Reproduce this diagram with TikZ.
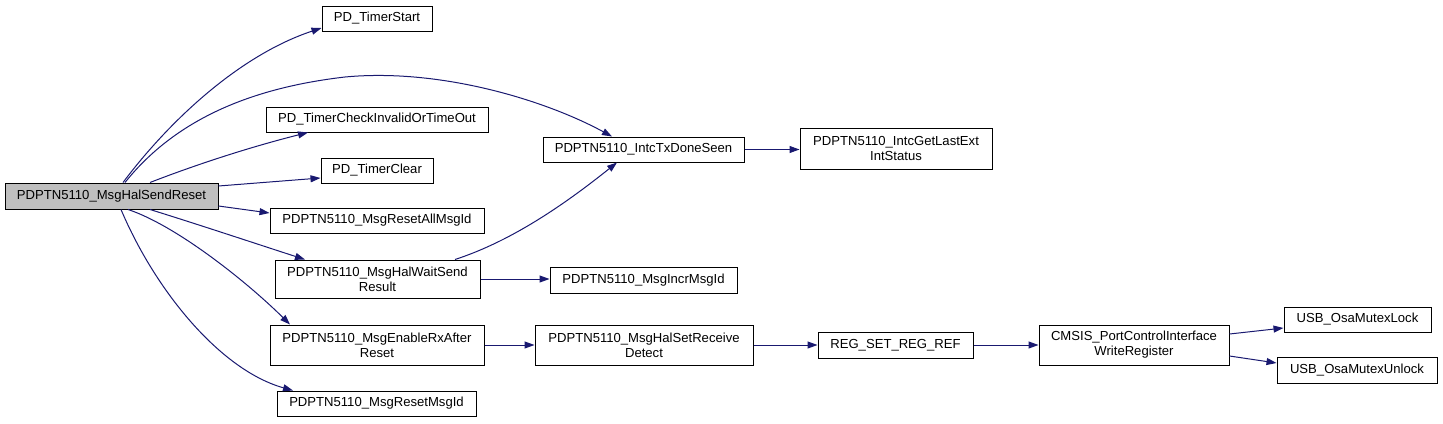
\documentclass[tikz,border=0pt]{standalone}
\usepackage{fontspec}
\setmainfont{Liberation Sans}
\usetikzlibrary{arrows.meta}
\definecolor{edgecol}{HTML}{191970}
\definecolor{rootfill}{HTML}{BFBFBF}
\tikzset{
  fnbox/.style={draw=black, line width=1pt, fill=white, inner sep=0pt, align=center,
    font=\fontsize{13.1}{15}\selectfont},
  rootbox/.style={fnbox, fill=rootfill},
  call/.style={draw=edgecol, line width=1pt, -{Triangle[length=10pt,width=7pt]}, color=edgecol}
}
\begin{document}
\begin{tikzpicture}[x=1pt,y=-1pt]
\useasboundingbox (0,0) rectangle (1443,423);
% nodes
\node[rootbox, minimum width=213pt, minimum height=26pt] (A) at (111.5,196) {PDPTN5110\_MsgHalSendReset};
\node[fnbox, minimum width=110pt, minimum height=25pt] (B) at (377,18.5) {PD\_TimerStart};
\node[fnbox, minimum width=222pt, minimum height=25pt] (C) at (377,119.5) {PD\_TimerCheckInvalidOrTimeOut};
\node[fnbox, minimum width=112pt, minimum height=25pt] (D) at (377,170.5) {PD\_TimerClear};
\node[fnbox, minimum width=214pt, minimum height=25pt] (E) at (377,220.5) {PDPTN5110\_MsgResetAllMsgId};
\node[fnbox, minimum width=205pt, minimum height=38pt] (F) at (377.5,279) {PDPTN5110\_MsgHalWaitSend\\Result};
\node[fnbox, minimum width=214pt, minimum height=40pt] (G) at (377,345) {PDPTN5110\_MsgEnableRxAfter\\Reset};
\node[fnbox, minimum width=199pt, minimum height=25pt] (H) at (376.5,403.5) {PDPTN5110\_MsgResetMsgId};
\node[fnbox, minimum width=201pt, minimum height=25pt] (I) at (643.5,149.5) {PDPTN5110\_IntcTxDoneSeen};
\node[fnbox, minimum width=192pt, minimum height=41pt] (J) at (896,148.5) {PDPTN5110\_IntcGetLastExt\\IntStatus};
\node[fnbox, minimum width=187pt, minimum height=26pt] (K) at (643.5,280) {PDPTN5110\_MsgIncrMsgId};
\node[fnbox, minimum width=218pt, minimum height=40pt] (L) at (644,345) {PDPTN5110\_MsgHalSetReceive\\Detect};
\node[fnbox, minimum width=155pt, minimum height=26pt] (M) at (895.5,345) {REG\_SET\_REG\_REF};
\node[fnbox, minimum width=190pt, minimum height=40pt] (N) at (1134,345) {CMSIS\_PortControlInterface\\WriteRegister};
\node[fnbox, minimum width=147pt, minimum height=25pt] (O) at (1357.5,319.5) {USB\_OsaMutexLock};
\node[fnbox, minimum width=160pt, minimum height=26pt] (P) at (1357,370) {USB\_OsaMutexUnlock};
% edges
\draw[call] (A.north -| 123,0) .. controls (170,120) and (240,55) .. (B.west |- 0,28);
\draw[call] (A.north -| 125,0) .. controls (175,120) and (250,88) .. (345,77) .. controls (440,68) and (545,100) .. (I.north -| 612,0);
\draw[call] (A.north -| 150,0) .. controls (195,165) and (250,147) .. (C.south -| 308,0);
\draw[call] (A.east |- 0,186) -- (D.west |- 0,178);
\draw[call] (A.east |- 0,206) -- (E.west |- 0,213);
\draw[call] (A.south -| 150,0) .. controls (200,225) and (260,245) .. (F.north -| 305,0);
\draw[call] (A.south -| 128,0) .. controls (175,225) and (245,280) .. (G.north -| 290,0);
\draw[call] (A.south -| 121,0) .. controls (155,290) and (220,370) .. (H.north -| 293,0);
\draw[call] (F.north -| 455,0) .. controls (515,240) and (570,200) .. (I.south -| 617,0);
\draw[call] (F.east) -- (F.east -| K.west);
\draw[call] (G.east) -- (L.west);
\draw[call] (I.east) -- (I.east -| J.west);
\draw[call] (L.east) -- (M.west);
\draw[call] (M.east) -- (N.west);
\draw[call] (N.east |- 0,334) -- (O.west |- 0,328);
\draw[call] (N.east |- 0,356) -- (P.west |- 0,363);
\end{tikzpicture}
\end{document}
